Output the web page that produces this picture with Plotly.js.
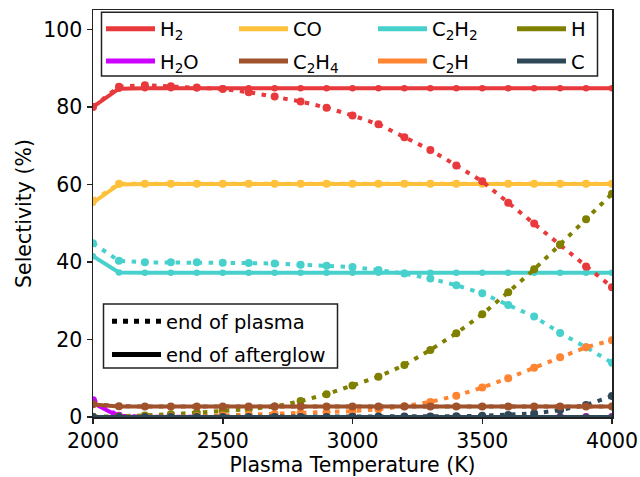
<!DOCTYPE html>
<html><head><meta charset="utf-8">
<script src="https://cdn.plot.ly/plotly-3.0.1.min.js"></script>
<style>html,body{margin:0;padding:0;background:#fff}#chart{width:640px;height:477px}</style>
</head><body><div id="chart"></div>
<script>
// ---- data ----
const temperature = [2000,2100,2200,2300,2400,2500,2600,2700,2800,2900,3000,3100,3200,3300,3400,3500,3600,3700,3800,3900,4000];

const h2Plasma     = [80.0,85.2,85.6,85.3,85.0,84.6,83.8,82.7,81.4,79.8,77.8,75.5,72.2,68.9,64.9,60.8,55.3,49.9,44.4,38.8,33.5];
const h2Afterglow  = [80.0,84.7,84.8,84.8,84.8,84.8,84.8,84.8,84.8,84.8,84.8,84.8,84.8,84.8,84.8,84.8,84.8,84.8,84.8,84.8,84.8];
const h2oPlasma    = [4.3,0.3,0.05,0,0,0,0,0,0,0,0,0,0,0,0,0,0,0,0,0,0];
const h2oAfterglow = [3.6,0.1,0,0,0,0,0,0,0,0,0,0,0,0,0,0,0,0,0,0,0];
const coPlasma     = [55.8,60.2,60.2,60.2,60.2,60.2,60.2,60.2,60.2,60.2,60.2,60.2,60.2,60.2,60.2,60.2,60.2,60.2,60.2,60.2,60.2];
const coAfterglow  = [55.3,60.0,60.1,60.1,60.1,60.1,60.1,60.1,60.1,60.1,60.1,60.1,60.1,60.1,60.1,60.1,60.1,60.1,60.1,60.1,60.1];
const c2h4Plasma   = [3.3,2.8,2.7,2.7,2.7,2.7,2.7,2.7,2.7,2.7,2.7,2.7,2.7,2.7,2.7,2.7,2.7,2.7,2.7,2.7,2.7];
const c2h4Afterglow= [3.2,2.7,2.7,2.7,2.7,2.7,2.7,2.7,2.7,2.7,2.7,2.7,2.7,2.7,2.7,2.7,2.7,2.7,2.7,2.7,2.7];
const c2h2Plasma   = [44.8,40.3,39.9,39.9,39.9,39.8,39.7,39.6,39.3,39.0,38.7,37.9,37.0,35.7,34.0,31.9,28.9,25.9,21.7,18.0,14.0];
const c2h2Afterglow= [41.5,37.3,37.2,37.2,37.2,37.2,37.2,37.2,37.2,37.2,37.2,37.2,37.2,37.2,37.2,37.2,37.2,37.2,37.2,37.2,37.2];
const c2hPlasma    = [0,0,0.05,0.1,0.2,0.4,0.6,0.8,1.0,1.2,1.5,2.0,2.8,3.9,5.5,7.6,10.0,12.7,15.4,18.0,19.8];
const c2hAfterglow = [0,0,0,0,0,0,0,0,0,0,0,0,0,0,0,0,0,0,0,0,0];
const hPlasma      = [0.05,0.15,0.4,0.7,1.1,1.6,2.0,2.7,4.1,5.9,8.1,10.4,13.4,17.3,21.6,26.5,32.2,38.1,44.5,51.0,57.6];
const hAfterglow   = [0,0,0,0,0,0,0,0,0,0,0,0,0,0,0,0,0,0,0,0,0];
const cPlasma      = [0,0,0,0,0,0,0,0,0,0,0.05,0.1,0.1,0.15,0.2,0.3,0.5,0.9,1.8,3.1,5.4];
const cAfterglow   = [0,0,0,0,0,0,0,0,0,0,0,0,0,0,0,0,0,0,0,0,0];

const speciesLabels = ['H<sub>2</sub>','H<sub>2</sub>O','CO','C<sub>2</sub>H<sub>4</sub>','C<sub>2</sub>H<sub>2</sub>','C<sub>2</sub>H','H','C'];
const plasmaSeries    = [h2Plasma,h2oPlasma,coPlasma,c2h4Plasma,c2h2Plasma,c2hPlasma,hPlasma,cPlasma];
const afterglowSeries = [h2Afterglow,h2oAfterglow,coAfterglow,c2h4Afterglow,c2h2Afterglow,c2hAfterglow,hAfterglow,cAfterglow];
const styleLabels = ['end of plasma','end of afterglow'];

// ---- styles ----
const colors = ['#e8393c','#cc00ff','#ffc13b','#a0522d','#48d1cc','#ff8533','#808000','#2f4858'];
const drawOrder = [2,4,1,0,6,5,7,3];
const FONT = 'DejaVu Sans, sans-serif';
const M = {l:93, r:28, t:10, b:60};
const W = 640, H = 477;
const pw = W - M.l - M.r, ph = H - M.t - M.b;
const px2x = p => (p - M.l) / pw;
const px2y = p => (H - M.b - p) / ph;

const traces = [];
drawOrder.forEach(i => {
  traces.push({x: temperature, y: plasmaSeries[i], type:'scatter', mode:'lines+markers',
    line:{color:colors[i], width:4, dash:'4.5px,6.5px'}, marker:{color:colors[i], size:8},
    showlegend:false, hoverinfo:'skip'});
  traces.push({x: temperature, y: afterglowSeries[i], type:'scatter', mode:'lines+markers',
    line:{color:colors[i], width:4}, marker:{color:colors[i], size:6.5},
    showlegend:false, hoverinfo:'skip'});
});
// legend entries (no data)
const legendIds = ['legend','legend','legend2','legend2','legend3','legend3','legend4','legend4'];
speciesLabels.forEach((lab,i) => {
  traces.push({x:[null], y:[null], type:'scatter', mode:'lines', name:lab,
    line:{color:colors[i], width:5}, legend:legendIds[i], legendgroup:'g'+i, showlegend:true});
});
styleLabels.forEach((lab,i) => {
  traces.push({x:[null], y:[null], type:'scatter', mode:'lines', name:lab,
    line:{color:'#000', width:5, dash: i===0 ? '5px,6px' : 'solid'}, legend:'legend5', legendgroup:'s'+i, showlegend:true});
});

const legBase = {xanchor:'left', yanchor:'top', bgcolor:'rgba(0,0,0,0)', borderwidth:0,
  font:{family:FONT, size:19.5, color:'#000'}, tracegroupgap:4, itemwidth:49, traceorder:'grouped'};
const colLeft = [101,234,373,512];
const layout = {
  width:W, height:H, margin:{l:M.l, r:M.r, t:M.t, b:M.b, autoexpand:false},
  paper_bgcolor:'#fff', plot_bgcolor:'#fff',
  font:{family:FONT, color:'#000'},
  xaxis:{range:[2000,4000], tickvals:[2000,2500,3000,3500,4000], ticks:'outside', ticklen:5, tickwidth:1.5,
    tickcolor:'#222', showline:true, linecolor:'#222', linewidth:1.5, mirror:true, showgrid:false, zeroline:false,
    tickfont:{family:FONT, size:20.5, color:'#000'},
    title:{text:'Plasma Temperature (K)', font:{family:FONT, size:20.5, color:'#000'}, standoff:4}},
  yaxis:{range:[0,105], tickvals:[0,20,40,60,80,100], ticks:'outside', ticklen:5, tickwidth:1.5,
    tickcolor:'#222', showline:true, linecolor:'#222', linewidth:1.5, mirror:true, showgrid:false, zeroline:false,
    tickfont:{family:FONT, size:20.5, color:'#000'},
    title:{text:'Selectivity (%)', font:{family:FONT, size:20.5, color:'#000'}, standoff:6}},
  legend: Object.assign({}, legBase, {x:px2x(colLeft[0]), y:px2y(9.5)}),
  legend2: Object.assign({}, legBase, {x:px2x(colLeft[1]), y:px2y(9.5)}),
  legend3: Object.assign({}, legBase, {x:px2x(colLeft[2]), y:px2y(9.5)}),
  legend4: Object.assign({}, legBase, {x:px2x(colLeft[3]), y:px2y(9.5)}),
  legend5: Object.assign({}, legBase, {x:px2x(107), y:px2y(302), tracegroupgap:5}),
  shapes:[
    {type:'rect', xref:'paper', yref:'paper', x0:px2x(101.5), x1:px2x(597.5), y0:px2y(76), y1:px2y(12.3),
      line:{color:'#222', width:1.5}, fillcolor:'rgba(255,255,255,0.85)', layer:'above'},
    {type:'rect', xref:'paper', yref:'paper', x0:px2x(103.5), x1:px2x(337.5), y0:px2y(368), y1:px2y(304),
      line:{color:'#222', width:1.5}, fillcolor:'rgba(255,255,255,0.85)', layer:'above'}
  ]
};
Plotly.newPlot('chart', traces, layout, {displayModeBar:false, staticPlot:true});
</script></body></html>
